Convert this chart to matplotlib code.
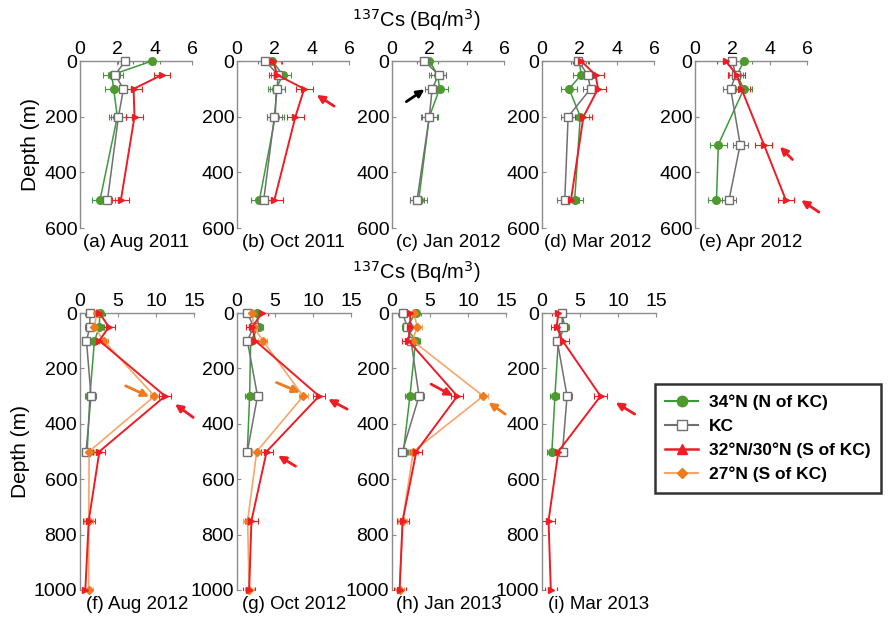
import numpy as np
import matplotlib
matplotlib.use("Agg")
import matplotlib.pyplot as plt
from matplotlib.lines import Line2D

nan = np.nan

# panel titles
titles_top = ["(a) Aug 2011", "(b) Oct 2011", "(c) Jan 2012", "(d) Mar 2012", "(e) Apr 2012"]
titles_bot = ["(f) Aug 2012", "(g) Oct 2012", "(h) Jan 2013", "(i) Mar 2013"]

# depths (m)
depth_top = [0, 50, 100, 200, 500]
depth_e = [0, 50, 100, 300, 500]
depth_bot = [0, 50, 100, 300, 500, 750, 1000]

# 137Cs (Bq/m3) per panel, nan = no sample
n34 = {
    "a": [3.85, 1.7, 1.8, 2.0, 1.07],
    "b": [1.9, 2.45, 2.1, 2.05, 1.2],
    "c": [2.0, 2.45, 2.55, 2.0, 1.43],
    "d": [2.0, 2.1, 1.45, 2.05, 1.75],
    "e": [2.62, 2.25, 2.62, 1.25, 1.15],
    "f": [2.6, 2.55, 1.9, 1.3, 0.95, nan, nan],
    "g": [2.6, 2.85, 1.8, 1.66, 1.36, nan, nan],
    "h": [3.2, 1.85, 3.1, 2.36, 1.5, nan, nan],
    "i": [2.6, 3.0, 2.15, 1.7, 1.3, nan, nan],
}
kc = {
    "a": [2.42, 1.88, 2.33, 2.06, 1.47],
    "b": [1.52, 2.2, 2.15, 2.0, 1.43],
    "c": [1.74, 2.5, 2.15, 2.0, 1.34],
    "d": [1.95, 2.45, 2.6, 1.4, 1.22],
    "e": [2.0, 2.18, 1.91, 2.42, 1.82],
    "f": [1.3, 1.3, 0.85, 1.45, 0.8, nan, nan],
    "g": [1.36, 2.2, 1.36, 2.7, 1.36, nan, nan],
    "h": [1.4, 2.0, 2.5, 3.56, 1.37, nan, nan],
    "i": [2.6, 2.7, 2.0, 3.3, 2.7, nan, nan],
}
s32 = {
    "a": [nan, 4.39, 2.87, 2.92, 2.19],
    "b": [1.94, 2.15, 3.6, 3.13, 2.0],
    "d": [2.09, 2.87, 3.0, 2.22, 1.55],
    "e": [1.64, 2.24, 2.49, 3.69, 4.87],
    "f": [2.55, 3.8, 2.55, 11.2, 2.55, 1.15, 0.7],
    "g": [3.3, 2.0, 2.4, 10.8, 3.9, 1.9, 1.6],
    "h": [2.4, 2.4, 2.15, 8.6, 3.2, 1.4, 1.0],
    "i": [2.15, 1.93, 2.7, 7.7, 2.15, 0.86, 1.16],
}
s27 = {
    "f": [2.2, 1.9, 3.1, 9.8, 1.2, 1.15, 1.15],
    "g": [2.0, 2.2, 3.4, 8.7, 2.6, 1.4, 1.6],
    "h": [2.9, 3.3, 2.7, 12.0, 2.8, 1.4, 1.0],
}

# horizontal error bars (Bq/m3)
err_top = {"n34": 0.45, "kc": 0.4, "s32": 0.45}
err_bot = {"n34": 0.6, "kc": 0.6, "s32": 0.8, "s27": 0.6}

# arrows: panel, tip (x, depth), tail (x, depth), colour
arrows = [
    ("b", (4.27, 122), (5.2, 162), "red"),
    ("c", (1.74, 102), (0.77, 146), "black"),
    ("e", (4.55, 308), (5.22, 354), "red"),
    ("e", (5.69, 500), (6.64, 543), "red"),
    ("f", (12.5, 329), (14.9, 377), "red"),
    ("f", (9.1, 302), (6.0, 263), "orange"),
    ("g", (12.0, 311), (14.5, 347), "red"),
    ("g", (5.4, 515), (7.7, 553), "red"),
    ("g", (8.3, 287), (5.2, 251), "orange"),
    ("h", (8.0, 299), (5.15, 257), "red"),
    ("h", (12.7, 323), (14.9, 365), "orange"),
    ("i", (9.7, 323), (12.2, 365), "red"),
]

GREEN = "#4e9a2e"
GREEN_L = "#3c9a3c"
GREY = "#707070"
RED = "#ee1c25"
ORANGE = "#f07a1e"
ORANGE_L = "#f7a66a"
AXGREY = "#8c8c8c"
arrow_col = {"red": RED, "orange": ORANGE, "black": "black"}

styles = {
    "n34": dict(color=GREEN_L, marker="o", mfc=GREEN, mec=GREEN, ms=5.5, lw=1.1),
    "kc": dict(color=GREY, marker="s", mfc="white", mec=GREY, ms=6, lw=1.1),
    "s32": dict(color=RED, marker=">", mfc=RED, mec=RED, ms=4.5, lw=1.4),
    "s27": dict(color=ORANGE_L, marker="D", mfc=ORANGE, mec=ORANGE, ms=4, lw=1.2),
}

plt.rcParams["font.family"] = "Liberation Sans"

fig = plt.figure(figsize=(8.9, 6.21), dpi=100)
W, H = 890.0, 621.0


def make_axes(x0, ytop, ybot, w):
    return fig.add_axes([x0 / W, 1 - ybot / H, w / W, (ybot - ytop) / H])


def style_axes(ax, xmax, xticks, ymax, yticks, ylabel):
    ax.set_xlim(0, xmax)
    ax.set_ylim(ymax, 0)
    ax.xaxis.tick_top()
    ax.set_xticks(xticks)
    ax.set_yticks(yticks)
    for s in ["right", "bottom"]:
        ax.spines[s].set_visible(False)
    for s in ["left", "top"]:
        ax.spines[s].set_color(AXGREY)
        ax.spines[s].set_linewidth(1.0)
    ax.tick_params(direction="in", length=3, color=AXGREY, labelsize=14, pad=2)
    ax.patch.set_alpha(0)
    if ylabel:
        ax.set_ylabel("Depth (m)", fontsize=15, labelpad=3)


def draw_series(ax, key, depth, vals, err):
    st = styles[key]
    vals = np.array(vals, dtype=float)
    ax.errorbar(vals, depth, xerr=np.where(np.isnan(vals), nan, err), fmt="none",
                ecolor=st["color"], elinewidth=0.8, capsize=2, capthick=0.8, zorder=2)
    ax.plot(vals, depth, color=st["color"], lw=st["lw"], marker=st["marker"],
            mfc=st["mfc"], mec=st["mec"], ms=st["ms"], zorder=3, clip_on=False)


def draw_arrows(ax, letter):
    for p, tip, tail, c in arrows:
        if p == letter:
            ax.annotate("", xy=tip, xytext=tail, annotation_clip=False,
                        arrowprops=dict(arrowstyle="-|>", color=arrow_col[c], lw=2.0,
                                        mutation_scale=11, shrinkA=0, shrinkB=0))


top_x = [80, 237, 392, 542, 695]
bot_x = [80, 237, 392, 542]
letters_top = ["a", "b", "c", "d", "e"]
letters_bot = ["f", "g", "h", "i"]

for i, L in enumerate(letters_top):
    ax = make_axes(top_x[i], 61, 228, 112)
    style_axes(ax, 6, [0, 2, 4, 6], 600, [0, 200, 400, 600], i == 0)
    depth = depth_e if L == "e" else depth_top
    for key, data in [("n34", n34), ("kc", kc), ("s32", s32)]:
        if L in data:
            draw_series(ax, key, depth, data[L], err_top[key])
    draw_arrows(ax, L)
    ax.text(0.5, -0.035, titles_top[i], transform=ax.transAxes, ha="center", va="top", fontsize=13.5)

for i, L in enumerate(letters_bot):
    ax = make_axes(bot_x[i], 313, 590, 114)
    style_axes(ax, 15, [0, 5, 10, 15], 1000, [0, 200, 400, 600, 800, 1000], i == 0)
    for key, data in [("n34", n34), ("kc", kc), ("s27", s27), ("s32", s32)]:
        if L in data:
            draw_series(ax, key, depth_bot, data[L], err_bot[key])
    draw_arrows(ax, L)
    ax.text(0.5, -0.02, titles_bot[i], transform=ax.transAxes, ha="center", va="top", fontsize=13.5)

fig.text(416 / W, 1 - 20 / H, r"$^{137}$Cs (Bq/m$^3$)", ha="center", va="center", fontsize=14.5)
fig.text(416 / W, 1 - 272 / H, r"$^{137}$Cs (Bq/m$^3$)", ha="center", va="center", fontsize=14.5)

handles = [
    Line2D([], [], color=GREEN_L, marker="o", mfc=GREEN, mec=GREEN, ms=7.5, lw=1.5),
    Line2D([], [], color=GREY, marker="s", mfc="white", mec=GREY, ms=7.5, lw=1.5),
    Line2D([], [], color=RED, marker="^", mfc=RED, mec=RED, ms=7.5, lw=1.8),
    Line2D([], [], color=ORANGE_L, marker="D", mfc=ORANGE, mec=ORANGE, ms=5.5, lw=1.5),
]
labels = ["34°N (N of KC)", "KC", "32°N/30°N (S of KC)", "27°N (S of KC)"]
leg = fig.legend(handles, labels, loc="upper left", bbox_to_anchor=(655 / W, 1 - 384 / H),
                 frameon=True, fancybox=False, edgecolor="black",
                 prop=dict(weight="bold", size=12.5), handlelength=1.9, handletextpad=0.6,
                 labelspacing=0.5, borderpad=0.6, borderaxespad=0)
leg.get_frame().set_linewidth(1.8)

fig.savefig("out.png", dpi=100, facecolor="white")
